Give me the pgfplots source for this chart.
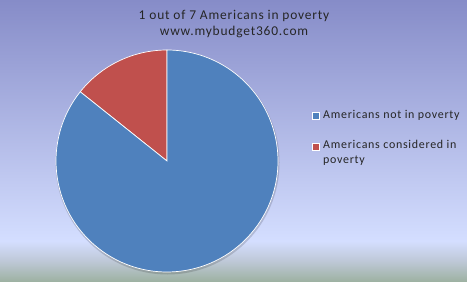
\documentclass[border=0pt]{standalone}
\usepackage{pgfplots}
\pgfplotsset{compat=1.18}
\usepackage{fontspec}
\setmainfont{Carlito}[LetterSpace=6]
\definecolor{pblue}{RGB}{79,129,189}
\definecolor{pred}{RGB}{192,80,77}
\definecolor{bgtop}{RGB}{134,140,200}
\definecolor{bgmid}{RGB}{212,222,255}
\definecolor{bgbot}{RGB}{158,178,163}
\definecolor{bggr}{RGB}{190,200,215}
% data: share of Americans (out of 7)
\def\vNot{6}
\def\vPov{1}
\pgfmathsetmacro\total{\vNot+\vPov}
\pgfmathsetmacro\aEnd{90+360*\vPov/\total}
\begin{document}
\begin{tikzpicture}
\begin{axis}[x=1bp,y=1bp,xmin=0,xmax=467,ymin=0,ymax=281,
  hide axis,scale only axis,clip=false]
\shade[top color=bgtop,bottom color=bgmid] (axis cs:0,281) rectangle (axis cs:467,40);
\shade[top color=bgmid,bottom color=bgbot,middle color=bggr] (axis cs:0,40) rectangle (axis cs:467,0);
% shadow
\fill[black,opacity=0.15] (axis cs:167.5,118.5) circle[radius=112bp];
% slices
\fill[pred,draw=white,line width=0.7bp] (axis cs:167,120) -- (axis cs:167,231) arc[start angle=90,end angle=\aEnd,radius=111bp] -- cycle;
\fill[pblue,draw=white,line width=0.7bp] (axis cs:167,120) -- ++(\aEnd:111bp) arc[start angle=\aEnd,end angle=450,radius=111bp] -- cycle;
% title
\node[font=\fontsize{13.5}{15}\selectfont,text=black!85] at (axis cs:234,265) {1 out of 7 Americans in poverty};
\node[font=\fontsize{13.5}{15}\selectfont,text=black!85] at (axis cs:234,249) {www.mybudget360.com};
% legend
\fill[pblue,draw=white,line width=0.5bp] (axis cs:312.5,162) rectangle (axis cs:319,168.5);
\node[anchor=west,inner sep=0pt,font=\fontsize{12}{14}\selectfont,text=black!85] at (axis cs:323,165.5) {Americans not in poverty};
\fill[pred,draw=white,line width=0.5bp] (axis cs:312.5,131) rectangle (axis cs:319,137.5);
\node[anchor=north west,inner sep=0pt,align=left,font=\fontsize{12}{15.5}\selectfont,text=black!85] at (axis cs:323,141) {Americans considered in\\poverty};
\end{axis}
\end{tikzpicture}
\end{document}
